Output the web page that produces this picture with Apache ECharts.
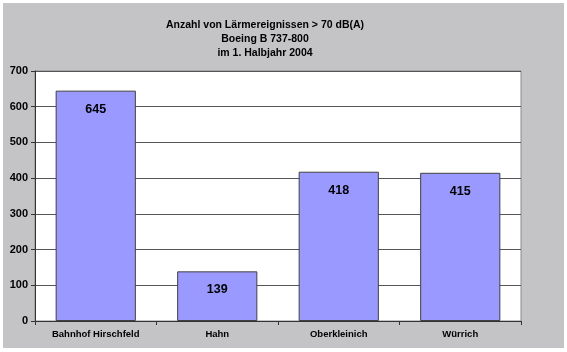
<!DOCTYPE html>
<html>
<head>
<meta charset="utf-8">
<script src="https://cdn.jsdelivr.net/npm/echarts@6/dist/echarts.min.js"></script>
<style>
  html, body { margin: 0; padding: 0; background: #fff; }
  #chart { width: 567px; height: 352px; }
</style>
</head>
<body>
<div id="chart"></div>
<script>
// Daten
const orte = ["Bahnhof Hirschfeld", "Hahn", "Oberkleinich", "Würrich"];
const anzahl = [645, 139, 418, 415];
const titelZeilen = ["Anzahl von Lärmereignissen > 70 dB(A)", "Boeing B 737-800", "im 1. Halbjahr 2004"];

const myChart = echarts.init(document.getElementById("chart"));
myChart.setOption({
  animation: false,
  backgroundColor: "#ffffff",
  textStyle: { fontFamily: "Liberation Sans, Arial, sans-serif" },
  graphic: [
    {
      type: "rect",
      z: -10,
      silent: true,
      shape: { x: 3, y: 3, width: 561, height: 345 },
      style: { fill: "#c4c3c6" },
    },
  ],
  title: {
    text: titelZeilen.join("\n"),
    left: 260,
    top: 13,
    textAlign: "center",
    textStyle: {
      fontSize: 10.5,
      fontWeight: "bold",
      color: "#000",
      lineHeight: 14,
    },
  },
  grid: {
    left: 35,
    right: 46,
    top: 71,
    bottom: 31,
    show: true,
    backgroundColor: "#ffffff",
    borderColor: "#8a8a8a",
    borderWidth: 1,
  },
  xAxis: {
    type: "category",
    data: orte,
    axisLine: { lineStyle: { color: "#333", width: 1 } },
    axisTick: { show: true, length: 4, lineStyle: { color: "#333" } },
    axisLabel: {
      color: "#000",
      fontSize: 9.5,
      fontWeight: "bold",
      margin: 8,
      interval: 0,
    },
  },
  yAxis: {
    type: "value",
    min: 0,
    max: 700,
    interval: 100,
    axisLine: { show: true, lineStyle: { color: "#333", width: 1 } },
    axisTick: { show: true, length: 4, lineStyle: { color: "#333" } },
    axisLabel: { color: "#000", fontSize: 11, fontWeight: "bold", margin: 7 },
    splitLine: { lineStyle: { color: "#555", width: 1 } },
  },
  series: [
    {
      type: "bar",
      data: anzahl,
      barWidth: "66%",
      itemStyle: { color: "#9999ff", borderColor: "#404040", borderWidth: 1 },
      label: {
        show: true,
        position: "insideTop",
        distance: 12,
        color: "#000",
        fontSize: 12.5,
        fontWeight: "bold",
      },
    },
  ],
});
</script>
</body>
</html>
